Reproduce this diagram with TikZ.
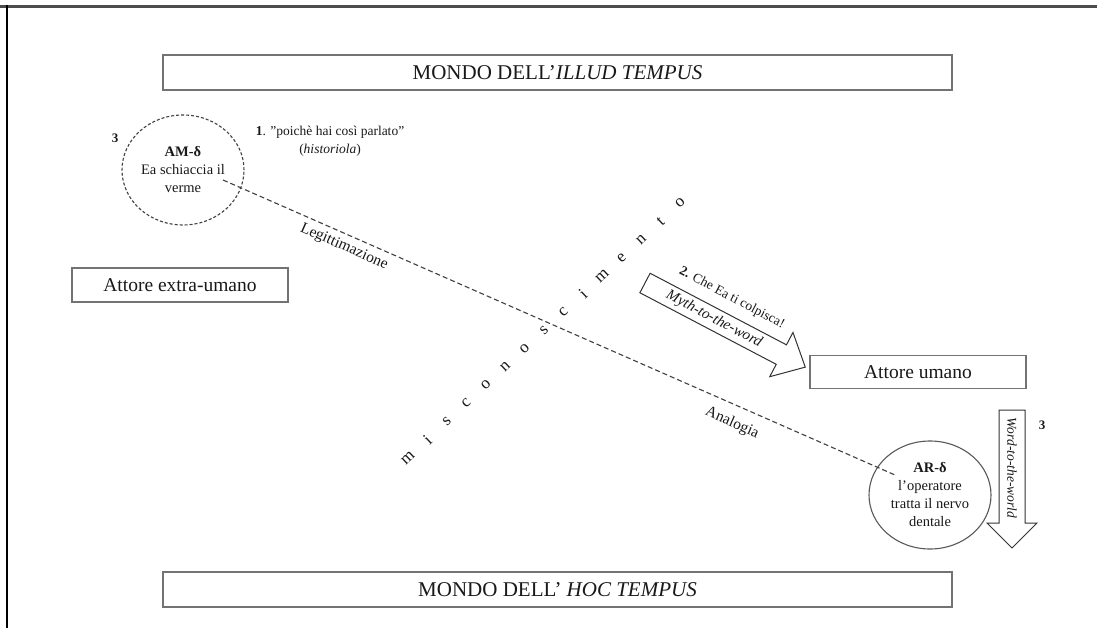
\documentclass[tikz,border=0pt]{standalone}
\usepackage{fontspec}
\setmainfont{Liberation Serif}
\usetikzlibrary{shapes.geometric}
\begin{document}
\begin{tikzpicture}[x=1pt,y=-1pt,
  inkcol/.style={text=black!90},
  worldbox/.style={draw=black!55, line width=1.1pt, minimum width=789pt, minimum height=35pt,
    inner sep=0pt, font=\fontsize{21}{24}\selectfont, inkcol},
  actorbox/.style={draw=black!55, line width=1.1pt, minimum width=216pt, minimum height=33pt,
    inner sep=0pt, font=\fontsize{19.5}{22}\selectfont, inkcol},
  bubble/.style={ellipse, inner sep=0pt, minimum width=122pt, minimum height=110pt,
    align=center, font=\fontsize{14.5}{18}\selectfont, inkcol},
  smalltext/.style={font=\fontsize{13.5}{18}\selectfont, inkcol, inner sep=0pt},
  steplabel/.style={font=\bfseries\fontsize{13}{15}\selectfont, inkcol, inner sep=0pt},
  linklabel/.style={font=\fontsize{15.5}{18}\selectfont, inkcol, inner sep=0pt, rotate=-23.7},
  spaced/.style={font=\fontsize{17}{18}\selectfont, inkcol, inner sep=0pt, rotate=43.2},
  bigarrow/.style={draw=black!80, line width=1pt, fill=white, line join=miter},
  connector/.style={draw=black!75, line width=1.1pt, dash pattern=on 5pt off 3pt}
]
\useasboundingbox (0,0) rectangle (1097,628);
\fill[white] (0,0) rectangle (1097,628);

% page frame
\draw[black!70, line width=2.2pt] (0,6.5) -- (1097,6.5);
\draw[black, line width=1.4pt] (7,5.5) -- (7,628);

% the two worlds
\node[worldbox] (illud) at (557.5,72.5) {MONDO DELL’\textit{ILLUD TEMPUS}};
\node[worldbox] (hoc) at (557.5,589.5) {MONDO DELL’ \textit{HOC TEMPUS}};

% actors
\node[actorbox, minimum height=34pt] (extra) at (180,285) {Attore extra-umano};
\node[actorbox] (umano) at (918,372) {Attore umano};

% mythical and real bubbles
\node[bubble, draw=black!75, line width=1.1pt, dash pattern=on 3pt off 2pt] (am) at (183,170)
  {\textbf{AM-δ}\\Ea schiaccia il\\verme};
\node[bubble, draw=black!65, line width=1.1pt, minimum height=108pt] (ar) at (930,495)
  {\textbf{AR-δ}\\l’operatore\\tratta il nervo\\dentale};

\node[steplabel] (threeA) at (115,138) {3};
\node[steplabel] (threeB) at (1042,425) {3};

\node[smalltext, align=center] (formula) at (330,141)
  {\textbf{1}. "poichè hai così parlato"\\(\textit{historiola})};

% link between the two bubbles
\coordinate (legA) at (223,180);
\coordinate (legB) at (895,475);
\draw[connector] (legA) -- (legB);
\node[linklabel] (legit) at (344,247) {Legittimazione};
\node[linklabel] (analog) at (732,423) {Analogia};

% letter-spaced diagonal word
\foreach \ch [count=\k from 0] in {m,i,s,c,o,n,o,s,c,i,m,e,n,t,o}
  \node[spaced] (mis\k) at ({408+19.43*\k},{458-18.2*\k}) {\ch};

% performative arrow: myth to word
\begin{scope}[shift={(645,283)}, rotate=-27.7]
  \draw[bigarrow] (0,-11) -- (154,-11) -- (154,-25) -- (181,0) -- (154,25) -- (154,11) -- (0,11) -- cycle;
  \node[font=\itshape\fontsize{15}{18}\selectfont, inkcol, inner sep=0pt, rotate=-27.7] (myth) at (78,0) {Myth-to-the-word};
  \node[smalltext, rotate=-27.7] (curse) at (84,-27) {\textbf{2.} Che Ea ti colpisca!};
\end{scope}

% performative arrow: word to world
\draw[bigarrow] (999,410) -- (1025,410) -- (1025,523) -- (1037,523) -- (1012,548)
  -- (987,523) -- (999,523) -- cycle;
\node[font=\itshape\fontsize{13.5}{16}\selectfont, inkcol, inner sep=0pt, rotate=-90] (wtw) at (1012,468) {Word-to-the-world};
\end{tikzpicture}
\end{document}
